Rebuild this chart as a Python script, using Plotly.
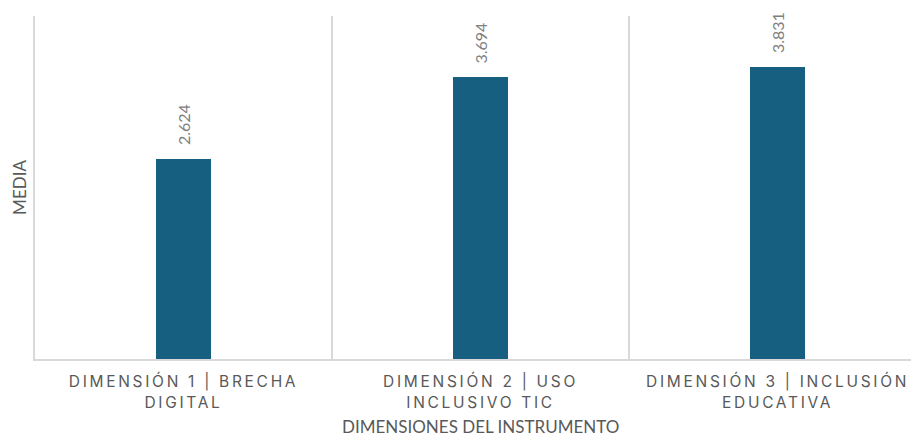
import plotly.graph_objects as go

categories = ["DIMENSIÓN 1 | BRECHA<br>DIGITAL", "DIMENSIÓN 2 | USO<br>INCLUSIVO TIC", "DIMENSIÓN 3 | INCLUSIÓN<br>EDUCATIVA"]
values = [2.624, 3.694, 3.831]
positions = [0, 1, 2]
boundaries = [-0.5, 0.5, 1.5, 2.5]
x_title = "DIMENSIONES DEL INSTRUMENTO"
y_title = "MEDIA"

bar_color = "#175F80"
grid_color = "#D9D9D9"
text_color = "#595959"

fig = go.Figure()
fig.add_trace(go.Bar(x=positions, y=values, width=0.185, marker=dict(color=bar_color, line=dict(width=0)),
                     hoverinfo="skip"))

for x, v in zip(positions, values):
    fig.add_annotation(x=x, y=v, text=f"{v:.3f}", textangle=-90, showarrow=False,
                       yanchor="bottom", yshift=12, font=dict(size=16, color="#7F7F7F", family="Lato"))

fig.add_annotation(xref="paper", yref="paper", x=0.508, y=0, yshift=-80, yanchor="bottom",
                   text=x_title, showarrow=False, font=dict(size=17, color=text_color, family="Lato"))

fig.update_layout(
    width=913, height=439,
    margin=dict(l=35, r=2, t=16, b=80),
    plot_bgcolor="white", paper_bgcolor="white",
    showlegend=False,
    bargap=0,
    xaxis=dict(
        range=[-0.5, 2.449],
        automargin=False,
        tickvals=positions, ticktext=categories,
        tickfont=dict(size=15.5, color=text_color, family="Inter"),
        showgrid=False, zeroline=False,
        showline=True, linecolor=grid_color, linewidth=1.5,
        ticks="outside", ticklen=8, tickcolor="rgba(0,0,0,0)",
        minor=dict(tickvals=boundaries, showgrid=True, gridcolor=grid_color, gridwidth=1.5, ticks=""),
        fixedrange=True,
    ),
    yaxis=dict(
        range=[0, 4.5],
        automargin=False,
        showticklabels=False, showgrid=False, zeroline=False, ticks="",
        showline=True, linecolor=grid_color, linewidth=1.5,
        title=dict(text=y_title, font=dict(size=17, color=text_color, family="Lato"), standoff=2),
        fixedrange=True,
    ),
)

post = """
var s = document.createElement('style');
s.innerHTML = '.xtick text, .xtick tspan { letter-spacing: 2.7px; }';
document.head.appendChild(s);
"""

fig.write_html("out.html", post_script=post, config={"displayModeBar": False})
